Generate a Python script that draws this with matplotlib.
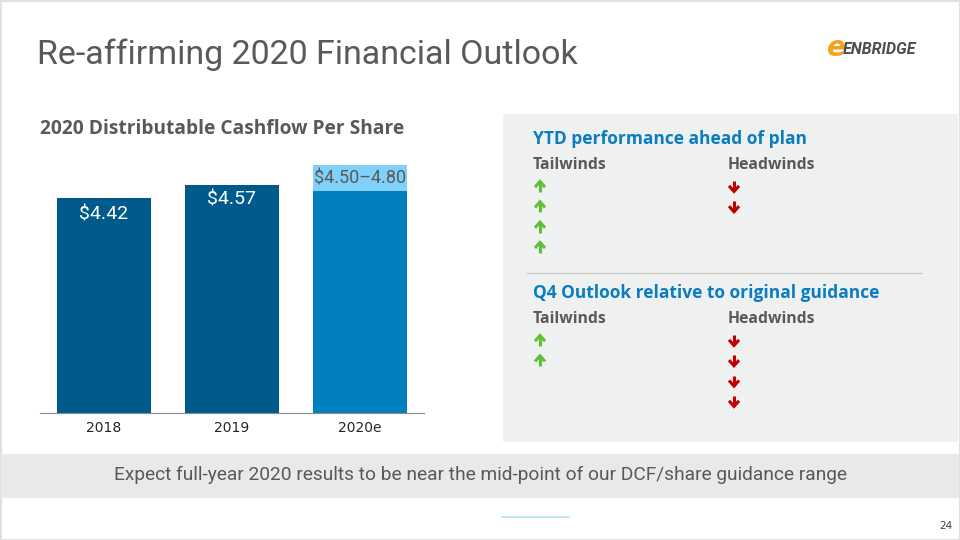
import matplotlib
matplotlib.use('Agg')
import matplotlib.pyplot as plt
from matplotlib.patches import Rectangle

# data
years = ['2018', '2019', '2020e']
dcf_values = [4.42, 4.57, 4.50]
range_top = 4.80
bar_labels = ['$4.42', '$4.57', '$4.50\u20134.80']

ytd_tailwinds = ['', '', '', '']
ytd_headwinds = ['', '']
q4_tailwinds = ['', '']
q4_headwinds = ['', '', '', '']

dark_blue = '#005A8B'
mid_blue = '#0080BF'
light_blue = '#80D1FA'
grey_text = '#595959'
head_blue = '#0A7DC0'

fig = plt.figure(figsize=(9.6, 5.4), dpi=100)

# slide overlay in pixel coordinates
bg = fig.add_axes([0, 0, 1, 1])
bg.set_xlim(0, 960)
bg.set_ylim(540, 0)
bg.axis('off')

bg.add_patch(Rectangle((0.5, 0.5), 959, 539, fill=False, ec='#E0E0E0', lw=1.5))
bg.add_patch(Rectangle((503, 114), 455, 328, fc='#EFF0F0', ec='none'))
bg.add_patch(Rectangle((1, 454), 958, 44, fc='#E8E9E9', ec='none'))
bg.plot([502, 569], [517, 517], color='#B5E3F2', lw=1.2)

bg.text(37, 55, 'Re-affirming 2020 Financial Outlook', fontsize=24.5, color=grey_text,
        family='Roboto', va='center', ha='left')

# logo
bg.text(836, 48, 'e', fontsize=20, color='#F4A41C', fontweight='bold', style='italic',
        va='center', ha='center')
bg.text(843, 49, 'ENBRIDGE', fontsize=11.5, color='#4D4D4D', fontweight='bold', style='italic',
        family='Roboto', va='center', ha='left')

bg.text(40, 129, '2020 Distributable Cashflow Per Share', fontsize=13.8, color=grey_text,
        fontweight='bold', family='Open Sans', va='center', ha='left')


def arrow(xc, yc, up, color):
    s = 1 if up else -1
    h = 5
    bg.plot([xc, xc], [yc - s * h, yc + s * h], color=color, lw=2.2, solid_capstyle='butt')
    bg.plot([xc - 4, xc, xc + 4], [yc - s * (h - 4), yc - s * (h + 0.5), yc - s * (h - 4)],
            color=color, lw=2.2, solid_joinstyle='miter')


# right panel
def block(y0, heading, tails, heads):
    bg.text(533, y0, heading, fontsize=12.5, color=head_blue, fontweight='bold',
            family='Open Sans', va='center', ha='left')
    bg.text(533, y0 + 26, 'Tailwinds', fontsize=11.3, color=grey_text, fontweight='bold',
            family='Open Sans', va='center', ha='left')
    bg.text(728, y0 + 26, 'Headwinds', fontsize=11.3, color=grey_text, fontweight='bold',
            family='Open Sans', va='center', ha='left')
    for i, t in enumerate(tails):
        arrow(540, y0 + 48 + i * 20.3, True, '#5CC234')
    for i, t in enumerate(heads):
        arrow(734, y0 + 47 + i * 20.3, False, '#C00000')

block(139, 'YTD performance ahead of plan', ytd_tailwinds, ytd_headwinds)
bg.plot([527, 921], [273, 273], color='#C8C8C8', lw=1)
block(293, 'Q4 Outlook relative to original guidance', q4_tailwinds, q4_headwinds)

bg.text(480, 475, 'Expect full-year 2020 results to be near the mid-point of our DCF/share guidance range',
        fontsize=13.8, color=grey_text, family='Roboto', va='center', ha='center')
bg.text(946, 526, '24', fontsize=7.5, color='#404040', va='center', ha='center')

# bar chart
ax = fig.add_axes([40 / 960, 127 / 540, 384 / 960, 263 / 540])
x = range(len(years))
colors = [dark_blue, dark_blue, mid_blue]
ax.bar(x, dcf_values, width=0.727, color=colors)
ax.bar([2], [range_top - dcf_values[2]], bottom=[dcf_values[2]], width=0.727, color=light_blue)
ax.set_xlim(-0.5, 2.5)
ax.set_ylim(1.94, 4.97)
ax.patch.set_alpha(0)
for s in ['top', 'right', 'left']:
    ax.spines[s].set_visible(False)
ax.spines['bottom'].set_color('#8C8C8C')
ax.set_yticks([])
ax.set_xticks(list(x))
ax.set_xticklabels(years, fontsize=10, color='#262626')
ax.tick_params(axis='x', length=0, pad=6)

label_y = [4.42 - 0.19, 4.57 - 0.17, 4.80 - 0.16]
label_col = ['white', 'white', grey_text]
label_size = [14, 14, 13]
for i in x:
    ax.text(i, label_y[i], bar_labels[i], ha='center', va='center', fontsize=label_size[i],
            color=label_col[i], family='Roboto')

fig.savefig('out.png', dpi=100)
